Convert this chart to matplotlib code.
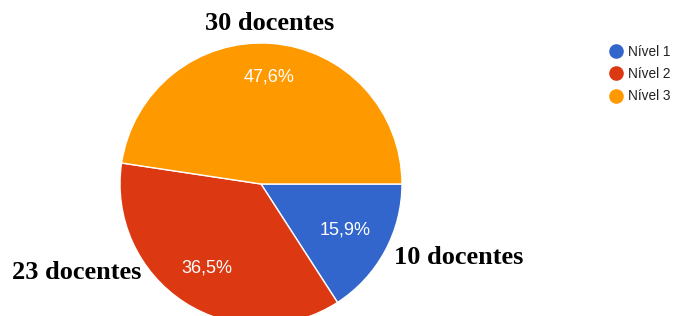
import matplotlib.pyplot as plt
from matplotlib.lines import Line2D
import numpy as np

# data
niveis = ['Nível 1', 'Nível 2', 'Nível 3']
docentes = [10, 23, 30]
pct_labels = ['15,9%', '36,5%', '47,6%']
count_labels = ['10 docentes', '23 docentes', '30 docentes']
cores = ['#3366cc', '#dc3912', '#ff9900']

W, H = 695, 316
fig = plt.figure(figsize=(W / 100, H / 100), dpi=100)
fig.patch.set_facecolor('white')

# pie axes: centre ~ (261,184) px, radius ~141 px
cx, cy, r = 261, 184, 141
ax = fig.add_axes([(cx - r) / W, (H - cy - r) / H, 2 * r / W, 2 * r / H])

wedges, _ = ax.pie(docentes, colors=cores, startangle=0, counterclock=False,
                   radius=1, wedgeprops=dict(edgecolor='white', linewidth=1))
ax.set_xlim(-1, 1)
ax.set_ylim(-1, 1)
ax.axis('off')

# percentage labels inside slices
total = sum(docentes)
ang0 = 0
pct_dist = [0.68, 0.71, 0.76]
for i, v in enumerate(docentes):
    frac = v / total * 360
    mid = np.deg2rad(ang0 - frac / 2)
    ax.text(pct_dist[i] * np.cos(mid), pct_dist[i] * np.sin(mid), pct_labels[i],
            color='white', fontsize=13, family='Liberation Sans',
            ha='center', va='center')
    ang0 -= frac

# outside bold count labels
count_pos = [(1.40, -0.52), (-1.31, -0.63), (0.064, 1.135)]
for lab, (x, y) in zip(count_labels, count_pos):
    ax.text(x, y, lab, fontsize=19, fontweight='bold', family='Liberation Serif',
            ha='center', va='center', clip_on=False)

# legend
handles = [Line2D([], [], marker='o', linestyle='', markersize=9.5,
                  markerfacecolor=c, markeredgecolor=c) for c in cores]
fig.legend(handles, niveis, loc='upper left', bbox_to_anchor=(608 / W, 1 - 45 / H),
           frameon=False, prop={'family': 'Liberation Sans', 'size': 9.8},
           labelcolor='#222222', handletextpad=0.25, labelspacing=0.6,
           handlelength=1.2, borderaxespad=0, borderpad=0)

fig.savefig('out.png', dpi=100)
